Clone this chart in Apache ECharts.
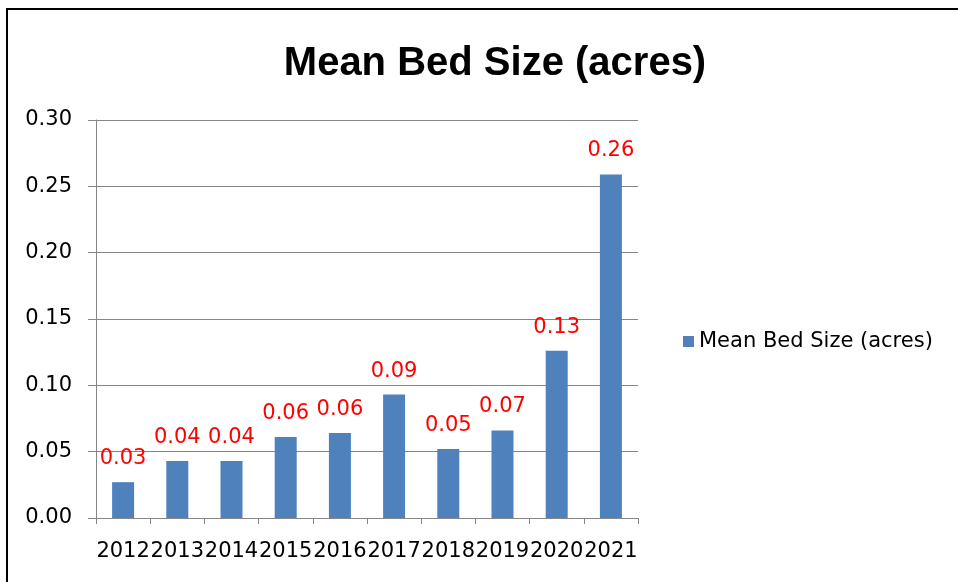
<!DOCTYPE html>
<html>
<head>
<meta charset="utf-8">
<script src="https://cdn.jsdelivr.net/npm/echarts@6/dist/echarts.min.js"></script>
<style>
  html, body { margin: 0; padding: 0; background: #fff; }
  .echarts_box {
    position: relative;
    width: 958px;
    height: 582px;
  }
  .frame {
    position: absolute;
    left: 6px;
    top: 8px;
    right: 0;
    bottom: 0;
    border-left: 2px solid #000;
    border-top: 2px solid #000;
    pointer-events: none;
  }
  #chart { width: 100%; height: 100%; }
</style>
</head>
<body>
<div class="echarts_box">
  <div id="chart"></div>
  <div class="frame"></div>
</div>
<script>
// 数据
var years = ['2012', '2013', '2014', '2015', '2016', '2017', '2018', '2019', '2020', '2021']
var bedSize = [0.027, 0.043, 0.043, 0.061, 0.064, 0.093, 0.052, 0.066, 0.126, 0.259]
var seriesName = 'Mean Bed Size (acres)'

var chartInstance = echarts.init(document.getElementById('chart'))
var axisColor = '#868686'
var labelFont = 'DejaVu Sans, Verdana, sans-serif'

var option = {
  animation: false,
  title: {
    text: 'Mean Bed Size (acres)',
    left: 490,
    textAlign: 'center',
    top: 39,
    textStyle: {
      fontFamily: 'Liberation Sans Narrow, Liberation Sans, sans-serif',
      fontWeight: 'bold',
      fontSize: 40,
      color: '#000',
    },
  },
  legend: {
    orient: 'vertical',
    left: 678,
    top: 326,
    icon: 'rect',
    itemWidth: 11,
    itemHeight: 11,
    itemGap: 10,
    textStyle: {
      fontFamily: labelFont,
      fontSize: 21,
      color: '#000',
    },
    data: [seriesName],
  },
  grid: {
    left: 96,
    right: 320,
    top: 120,
    bottom: 64,
  },
  xAxis: {
    type: 'category',
    data: years,
    axisLine: { lineStyle: { color: axisColor, width: 1 } },
    axisTick: { show: true, length: 6, lineStyle: { color: axisColor } },
    axisLabel: {
      color: '#000',
      fontFamily: labelFont,
      fontSize: 21,
      margin: 23,
      interval: 0,
    },
  },
  yAxis: {
    type: 'value',
    min: 0,
    max: 0.3,
    interval: 0.05,
    axisLine: { show: true, lineStyle: { color: axisColor, width: 1 } },
    axisTick: { show: true, length: 8, lineStyle: { color: axisColor } },
    splitLine: { lineStyle: { color: axisColor, width: 1 } },
    axisLabel: {
      color: '#000',
      fontFamily: labelFont,
      fontSize: 21,
      margin: 24,
      formatter: function (v) { return v.toFixed(2) },
    },
  },
  series: [
    {
      name: seriesName,
      type: 'bar',
      data: bedSize,
      barWidth: 22,
      itemStyle: { color: '#4F81BD' },
      label: {
        show: true,
        position: 'top',
        distance: 13,
        color: '#FF0000',
        fontFamily: labelFont,
        fontSize: 21,
        formatter: function (p) { return p.value.toFixed(2) },
      },
    },
  ],
}

chartInstance.setOption(option)
</script>
</body>
</html>
